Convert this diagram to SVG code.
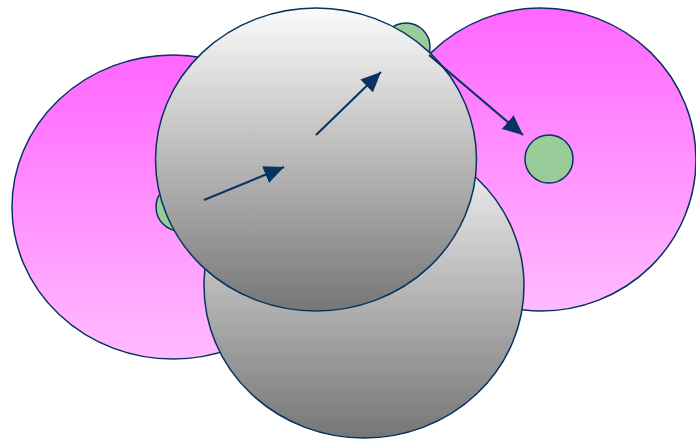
<svg xmlns="http://www.w3.org/2000/svg" width="696" height="441" viewBox="0 0 696 441">
  <defs>
    <linearGradient id="pink" x1="0" y1="0" x2="0" y2="1">
      <stop offset="0" stop-color="#ff66ff"/>
      <stop offset="1" stop-color="#ffbbff"/>
    </linearGradient>
    <linearGradient id="grey" x1="0" y1="0" x2="0" y2="1">
      <stop offset="0" stop-color="#fbfbfb"/>
      <stop offset="1" stop-color="#767676"/>
    </linearGradient>
    <marker id="arrow" markerUnits="userSpaceOnUse" markerWidth="20" markerHeight="18" refX="20" refY="9" orient="auto" viewBox="0 0 20 18">
      <path d="M0,0 L20,9 L0,18 z" fill="#06335f"/>
    </marker>
  </defs>
  <style>
    .outline { stroke: #06335f; stroke-width: 1.5; }
    .pink { fill: url(#pink); }
    .grey { fill: url(#grey); }
    .port { fill: #99cc99; stroke: #06335f; stroke-width: 1.5; }
    .edge { fill: none; stroke: #06335f; stroke-width: 2; marker-end: url(#arrow); }
  </style>
  <g id="left-pink">
    <ellipse class="pink outline" cx="173" cy="207" rx="161" ry="152"/>
  </g>
  <g id="right-pink">
    <ellipse class="pink outline" cx="541" cy="159.5" rx="155" ry="151.5"/>
  </g>
  <g id="port-left">
    <circle class="port" cx="180" cy="207" r="24"/>
  </g>
  <g id="port-top">
    <circle class="port" cx="406" cy="47" r="24"/>
  </g>
  <g id="port-right">
    <circle class="port" cx="549" cy="159" r="24"/>
  </g>
  <g id="bottom-grey">
    <ellipse class="grey outline" cx="364" cy="286" rx="160" ry="152"/>
  </g>
  <g id="top-grey">
    <ellipse class="grey outline" cx="316" cy="159.5" rx="160.5" ry="151.5"/>
  </g>
  <g id="connectors">
    <line class="edge" x1="204" y1="200" x2="284" y2="167"/>
    <line class="edge" x1="316" y1="135" x2="381" y2="72"/>
    <line class="edge" x1="429" y1="55" x2="523" y2="135"/>
  </g>
</svg>
